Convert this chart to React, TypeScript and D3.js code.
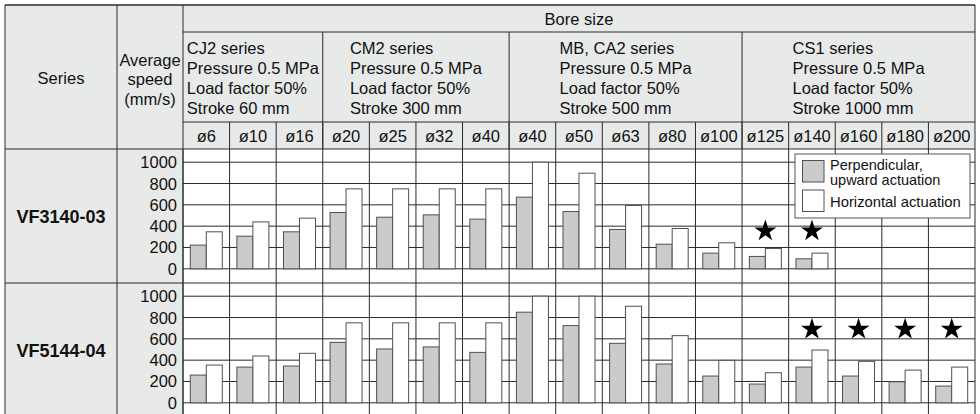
import React from "react";
import * as d3 from "d3";

const bores = ["ø6","ø10","ø16","ø20","ø25","ø32","ø40","ø40","ø50","ø63","ø80","ø100","ø125","ø140","ø160","ø180","ø200"];
const groupNames = ["CJ2 series","CM2 series","MB, CA2 series","CS1 series"];
const groupPressure = ["Pressure 0.5 MPa","Pressure 0.5 MPa","Pressure 0.5 MPa","Pressure 0.5 MPa"];
const groupLoad = ["Load factor 50%","Load factor 50%","Load factor 50%","Load factor 50%"];
const groupStroke = ["Stroke 60 mm","Stroke 300 mm","Stroke 500 mm","Stroke 1000 mm"];
const groupSpans = [3,4,5,5];

const seriesNames = ["VF3140-03","VF5144-04"];
const vf3140Perp = [222,306,347,528,484,506,466,672,537,369,231,147,116,94,null,null,null];
const vf3140Horiz = [347,440,475,750,750,750,750,1000,897,594,378,244,191,147,null,null,null];
const vf5144Perp = [260,335,345,567,505,524,473,850,724,558,364,251,176,335,251,197,157];
const vf5144Horiz = [354,439,464,750,750,750,750,1000,1000,906,630,398,282,495,389,307,335];
const vf3140Stars = [12,13];
const vf5144Stars = [13,14,15,16];
const starLevels = [355,690];
const yTicks = [0,200,400,600,800,1000];
const legendLabels = [["Perpendicular,","upward actuation"],["Horizontal actuation"]];

const rows = [
  { name: seriesNames[0], perp: vf3140Perp, horiz: vf3140Horiz, stars: vf3140Stars, star: starLevels[0] },
  { name: seriesNames[1], perp: vf5144Perp, horiz: vf5144Horiz, stars: vf5144Stars, star: starLevels[1] },
];

const FONT = "'Liberation Sans', Arial, Helvetica, sans-serif";
const FS = 16.5;
const LINE = "#2a2a2a";
const HEAD_BG = "#e8e9e9";
const GRAY = "#cbcbcb";
const BAR_STROKE = "#505050";

const W = 980, H = 414;
const L = 5, R = 975, T = 5;
const X_SER = 117, X_AVG = 183;
const Y_H1 = 32, Y_H2 = 122, Y_H3 = 149;
const ROW_H = 134;

function measure(text: string, font: string) {
  const c = document.createElement("canvas").getContext("2d");
  if (!c) return text.length * 8;
  c.font = font;
  return c.measureText(text).width;
}

export default function App() {
  const keys = bores.map((_, i) => String(i));
  const x = d3.scaleBand<string>().domain(keys).range([X_AVG, R]).padding(0);
  const cw = x.bandwidth();
  const inner = d3.scaleBand<string>().domain(["perp","horiz"]).range([0, cw]).paddingInner(0).paddingOuter(0.456);

  const cum = d3.cumsum(groupSpans);
  const groupStart = groupSpans.map((_, i) => (i === 0 ? 0 : cum[i - 1]));

  const star = d3.symbol().type(d3.symbolStar).size(150)() as string;

  const bottom = Y_H3 + rows.length * ROW_H;

  return (
    <svg width={W} height={H} style={{ position: "absolute", left: 0, top: 0, display: "block", background: "#fff" }} fontFamily={FONT}>
      <rect x={L} y={T} width={R - L} height={Y_H3 - T} fill={HEAD_BG} />
      <rect x={L} y={Y_H3} width={X_AVG - L} height={bottom - Y_H3} fill={HEAD_BG} />

      <text x={(L + X_SER) / 2} y={78} textAnchor="middle" dominantBaseline="central" fontSize={FS} fill="#111">Series</text>
      {["Average","speed","(mm/s)"].map((t, i) => (
        <text key={t} x={(X_SER + X_AVG) / 2} y={59.5 + i * 19.5} textAnchor="middle" dominantBaseline="central" fontSize={FS} fill="#111">{t}</text>
      ))}
      <text x={(X_AVG + R) / 2} y={18.5} textAnchor="middle" dominantBaseline="central" fontSize={FS} fill="#111">Bore size</text>
      {groupNames.map((g, i) => {
        const x0 = x(String(groupStart[i]))!;
        const x1 = x0 + groupSpans[i] * cw;
        const lines = [g, groupPressure[i], groupLoad[i], groupStroke[i]];
        const wmax = d3.max(lines, (l) => measure(l, `${FS}px 'Liberation Sans'`))!;
        const lx = (x0 + x1) / 2 - wmax / 2;
        return lines.map((l, j) => (
          <text key={g + j} x={lx} y={47.8 + j * 20.2} dominantBaseline="central" fontSize={FS} fill="#111">{l}</text>
        ));
      })}
      {bores.map((b, i) => (
        <text key={"b" + i} x={x(String(i))! + cw / 2} y={135.5} textAnchor="middle" dominantBaseline="central" fontSize={FS} fill="#111">{b}</text>
      ))}

      {rows.map((row, ri) => {
        const top = Y_H3 + ri * ROW_H;
        const y = d3.scaleLinear().domain([0, 1000]).range([top + 119.8, top + 13.2]);
        return (
          <g key={row.name}>
            <text x={(L + X_SER) / 2} y={top + 67.5} textAnchor="middle" dominantBaseline="central" fontSize={18} fontWeight="bold" fill="#111">{row.name}</text>
            {yTicks.map((t) => (
              <g key={t}>
                <line x1={X_AVG} x2={R} y1={y(t)} y2={y(t)} stroke={LINE} strokeWidth={1} />
                <text x={177} y={y(t)} textAnchor="end" dominantBaseline="central" fontSize={FS} fill="#111">{t}</text>
              </g>
            ))}
            {keys.map((k) => (
              <line key={k} x1={x(k)} x2={x(k)} y1={top} y2={top + ROW_H} stroke={LINE} strokeWidth={1} />
            ))}
            {keys.map((k, i) => {
              const p = row.perp[i];
              const h = row.horiz[i];
              const x0 = x(k)!;
              return (
                <g key={"bar" + k}>
                  {p != null && (
                    <rect x={x0 + inner("perp")!} y={y(p)} width={inner.bandwidth()} height={y(0) - y(p)} fill={GRAY} stroke={BAR_STROKE} strokeWidth={1} />
                  )}
                  {h != null && (
                    <rect x={x0 + inner("horiz")!} y={y(h)} width={inner.bandwidth()} height={y(0) - y(h)} fill="#fff" stroke={BAR_STROKE} strokeWidth={1} />
                  )}
                </g>
              );
            })}
            {row.stars.map((si) => (
              <path key={"s" + si} d={star} transform={`translate(${x(String(si))! + cw / 2},${y(row.star)})`} fill="#000" />
            ))}
          </g>
        );
      })}

      <g>
        <rect x={795} y={154} width={175} height={64} fill="#fff" stroke="#555" strokeWidth={1} />
        <rect x={802.5} y={160.5} width={21.5} height={21.5} fill={GRAY} stroke={BAR_STROKE} strokeWidth={1} />
        <rect x={802.5} y={190} width={21.5} height={21.5} fill="#fff" stroke={BAR_STROKE} strokeWidth={1} />
        <text x={830} y={170} fontSize={14.5} fill="#111">{legendLabels[0][0]}</text>
        <text x={830} y={184.5} fontSize={14.5} fill="#111">{legendLabels[0][1]}</text>
        <text x={830} y={207} fontSize={14.8} fill="#111">{legendLabels[1][0]}</text>
      </g>

      <line x1={L} x2={R} y1={T} y2={T} stroke={LINE} strokeWidth={1.3} />
      <line x1={L} x2={L} y1={T} y2={H} stroke={LINE} strokeWidth={1} />
      <line x1={R} x2={R} y1={T} y2={H} stroke={LINE} strokeWidth={1} />
      <line x1={X_SER} x2={X_SER} y1={T} y2={H} stroke={LINE} strokeWidth={1} />
      <line x1={X_AVG} x2={X_AVG} y1={T} y2={H} stroke={LINE} strokeWidth={1} />
      <line x1={X_AVG} x2={R} y1={Y_H1} y2={Y_H1} stroke={LINE} strokeWidth={1} />
      <line x1={X_AVG} x2={R} y1={Y_H2} y2={Y_H2} stroke={LINE} strokeWidth={1} />
      {groupStart.slice(1).map((gs) => (
        <line key={"g" + gs} x1={x(String(gs))} x2={x(String(gs))} y1={Y_H1} y2={Y_H3} stroke={LINE} strokeWidth={1} />
      ))}
      {keys.slice(1).map((k) => (
        <line key={"c" + k} x1={x(k)} x2={x(k)} y1={Y_H2} y2={Y_H3} stroke={LINE} strokeWidth={1} />
      ))}
      {rows.map((_, ri) => (
        <line key={"r" + ri} x1={L} x2={R} y1={Y_H3 + ri * ROW_H} y2={Y_H3 + ri * ROW_H} stroke={LINE} strokeWidth={1} />
      ))}
    </svg>
  );
}
